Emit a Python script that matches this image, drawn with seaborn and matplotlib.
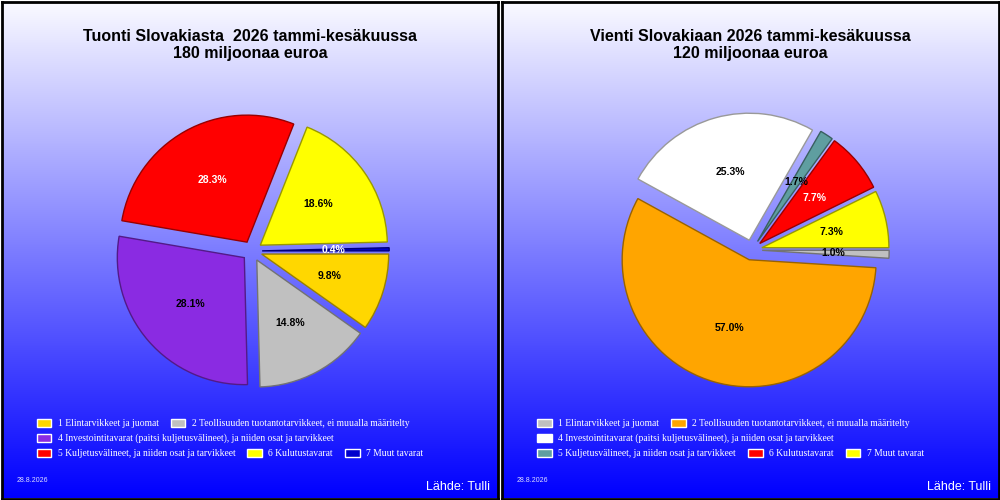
import numpy as np
import matplotlib
matplotlib.use("Agg")
import matplotlib.pyplot as plt
from matplotlib.patches import Patch
from matplotlib.colors import to_rgb
import seaborn as sns

# data
categories = [
    "1 Elintarvikkeet ja juomat",
    "2 Teollisuuden tuotantotarvikkeet, ei muualla määritelty",
    "4 Investointitavarat (paitsi kuljetusvälineet), ja niiden osat ja tarvikkeet",
    "5 Kuljetusvälineet, ja niiden osat ja tarvikkeet",
    "6 Kulutustavarat",
    "7 Muut tavarat",
]
import_share = [9.8, 14.8, 28.1, 28.3, 18.6, 0.4]
export_share = [1.0, 57.0, 25.3, 1.7, 7.7, 7.3]
import_colors = ["#FFD700", "#C0C0C0", "#8A2BE2", "#FF0000", "#FFFF00", "#0000CD"]
export_colors = ["#C0C0C0", "#FFA500", "#FFFFFF", "#5F9EA0", "#FF0000", "#FFFF00"]
titles = ["Tuonti Slovakiasta  2026 tammi-kesäkuussa\n180 miljoonaa euroa",
          "Vienti Slovakiaan 2026 tammi-kesäkuussa\n120 miljoonaa euroa"]
date_text = "28.8.2026"
source_text = "Lähde: Tulli"
legend_rows = [[0, 1], [2], [3, 4, 5]]

sns.set_theme(style="white")
plt.rcParams['font.family'] = ['Liberation Sans', 'DejaVu Sans']

fig = plt.figure(figsize=(10, 5), dpi=100, facecolor="white")

# white -> blue vertical gradient
grad = np.linspace(0.98, 0, 256)
bg = np.dstack([grad, grad, np.ones_like(grad)]).reshape(256, 1, 3)


def darker(c, f=0.6):
    r, g, b = to_rgb(c)
    return (r * f, g * f, b * f)


def lum(c):
    r, g, b = to_rgb(c)
    return 0.299 * r + 0.587 * g + 0.114 * b


panels = [
    (0.0015, import_share, import_colors, titles[0], 252, 251),
    (0.502, export_share, export_colors, titles[1], 752, 250),
]

for x0, shares, colors, title, cx, cy in panels:
    bax = fig.add_axes([x0, 0.003, 0.4965, 0.994], zorder=0)
    bax.imshow(bg, aspect="auto", extent=[0, 1, 0, 1])
    bax.set_xticks([])
    bax.set_yticks([])
    for sp in bax.spines.values():
        sp.set_color("black")
        sp.set_linewidth(2)

    ax = fig.add_axes([(cx - 190.5) / 1000, (500 - cy - 190.5) / 500, 0.381, 0.762], zorder=1)
    ax.patch.set_alpha(0)
    wedges, texts, autotexts = ax.pie(
        shares, colors=colors, startangle=0, counterclock=False,
        explode=[0.08] * len(shares), autopct="%.1f%%", pctdistance=0.56,
        wedgeprops=dict(linewidth=1))
    for w, c in zip(wedges, colors):
        w.set_edgecolor(darker(c))
    for t, c in zip(autotexts, colors):
        t.set_fontsize(7.5)
        t.set_fontweight("bold")
        t.set_color("white" if lum(c) < 0.33 else "black")
    ax.set_xlim(-1.5, 1.5)
    ax.set_ylim(-1.5, 1.5)
    ax.axis("off")

    fig.text((cx - 2) / 1000, 1 - 45 / 500, title, ha="center", va="center",
             fontsize=11.5, fontweight="bold", color="black", linespacing=1.15)

    # legend, one row at a time
    row_y = [423.5, 438.5, 453.5]
    for row, yy in zip(legend_rows, row_y):
        handles = [Patch(facecolor=colors[i], edgecolor="white", linewidth=1) for i in row]
        labels = [categories[i] for i in row]
        fig.legend(handles, labels, loc="center left",
                   bbox_to_anchor=((x0 * 1000 + 35) / 1000, 1 - yy / 500),
                   ncol=len(row), frameon=False, borderpad=0, borderaxespad=0,
                   handlelength=1.55, handleheight=0.95, handletextpad=0.65,
                   columnspacing=1.25,
                   prop=dict(family="Liberation Serif", size=6.9),
                   labelcolor="white")

    fig.text((x0 * 1000 + 15) / 1000, 1 - 480 / 500, date_text, ha="left", va="center",
             fontsize=5, color="#ddddff")
    fig.text((x0 * 1000 + 489) / 1000, 1 - 487 / 500, source_text, ha="right", va="center",
             fontsize=9, color="white")

fig.savefig("out.png", dpi=100, facecolor="white")
